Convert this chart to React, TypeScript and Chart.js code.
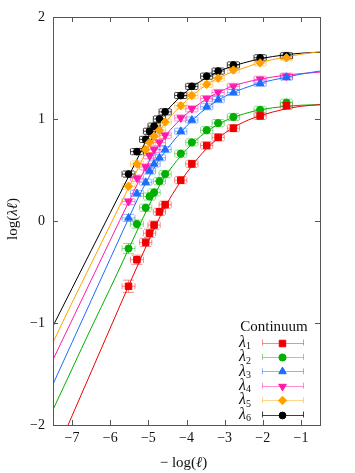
import React, { useEffect, useRef } from 'react';
import { Chart, registerables } from 'chart.js';
import { drawPoint } from 'chart.js/helpers';

Chart.register(...registerables);

// ---- data ----
const xValues = [-5.52, -5.30, -5.07, -4.97, -4.85, -4.71, -4.56, -4.15, -3.86, -3.47, -3.17, -2.77, -2.07, -1.38];
const xErr = [0.17, 0.17, 0.16, 0.16, 0.16, 0.16, 0.16, 0.16, 0.16, 0.16, 0.16, 0.16, 0.16, 0.16];

const lambda1 = [-0.64, -0.38, -0.21, -0.12, -0.04, 0.09, 0.16, 0.40, 0.56, 0.74, 0.82, 0.91, 1.03, 1.13];
const lambda2 = [-0.27, -0.03, 0.13, 0.24, 0.28, 0.39, 0.46, 0.66, 0.77, 0.89, 0.96, 1.02, 1.09, 1.16];
const lambda3 = [0.03, 0.27, 0.38, 0.49, 0.56, 0.62, 0.70, 0.88, 0.99, 1.12, 1.19, 1.26, 1.35, 1.41];
const lambda4 = [0.19, 0.42, 0.53, 0.64, 0.70, 0.77, 0.84, 1.01, 1.10, 1.20, 1.26, 1.32, 1.39, 1.42];
const lambda5 = [0.34, 0.56, 0.70, 0.77, 0.83, 0.89, 0.97, 1.13, 1.23, 1.34, 1.40, 1.48, 1.55, 1.60];
const lambda6 = [0.46, 0.68, 0.80, 0.88, 0.93, 1.00, 1.07, 1.23, 1.32, 1.42, 1.47, 1.53, 1.60, 1.62];

const yErr1 = [0.06, 0.045, 0.04, 0.04, 0.04, 0.035, 0.035, 0.035, 0.035, 0.035, 0.035, 0.035, 0.035, 0.035];
const yErr2 = [0.05, 0.04, 0.035, 0.035, 0.035, 0.035, 0.035, 0.035, 0.035, 0.035, 0.035, 0.035, 0.035, 0.035];
const yErr3 = [0.035, 0.03, 0.03, 0.03, 0.03, 0.03, 0.03, 0.03, 0.03, 0.03, 0.03, 0.03, 0.03, 0.03];
const yErr4 = [0.03, 0.03, 0.03, 0.03, 0.03, 0.03, 0.03, 0.03, 0.03, 0.03, 0.03, 0.03, 0.03, 0.03];
const yErr5 = [0.03, 0.03, 0.03, 0.03, 0.03, 0.03, 0.03, 0.03, 0.03, 0.03, 0.03, 0.03, 0.03, 0.03];
const yErr6 = [0.03, 0.03, 0.03, 0.03, 0.03, 0.03, 0.03, 0.03, 0.03, 0.03, 0.03, 0.03, 0.03, 0.03];

const curveX = [-7.5, -7, -6.5, -6, -5.5, -5.25, -5, -4.75, -4.5, -4, -3.5, -3, -2.5, -2, -1.5, -1, -0.5];
const curve1 = [-2.34, -1.91, -1.48, -1.05, -0.62, -0.41, -0.20, 0.0, 0.18, 0.47, 0.70, 0.86, 0.97, 1.04, 1.09, 1.125, 1.14];
const curve2 = [-1.85, -1.45, -1.05, -0.66, -0.26, -0.06, 0.14, 0.32, 0.47, 0.70, 0.87, 0.98, 1.05, 1.095, 1.12, 1.135, 1.14];
const curve3 = [-1.60, -1.19, -0.78, -0.37, 0.04, 0.24, 0.42, 0.58, 0.71, 0.93, 1.10, 1.22, 1.30, 1.36, 1.40, 1.44, 1.47];
const curve4 = [-1.36, -0.97, -0.58, -0.19, 0.20, 0.39, 0.57, 0.73, 0.86, 1.05, 1.19, 1.29, 1.355, 1.395, 1.425, 1.445, 1.46];
const curve5 = [-1.19, -0.80, -0.42, -0.04, 0.34, 0.53, 0.72, 0.86, 0.99, 1.18, 1.33, 1.43, 1.50, 1.56, 1.60, 1.635, 1.66];
const curve6 = [-1.03, -0.66, -0.29, 0.08, 0.45, 0.64, 0.83, 0.98, 1.09, 1.27, 1.40, 1.49, 1.55, 1.595, 1.625, 1.645, 1.655];

const xTicks = [-7, -6, -5, -4, -3, -2, -1];
const yTicks = [-2, -1, 0, 1, 2];
const seriesIndex = ['1', '2', '3', '4', '5', '6'];
const legendTitle = 'Continuum';

// ---- styles ----
const colors = ['#ee0000', '#00b000', '#1a6dff', '#ff1aaa', '#ffa000', '#000000'];
const barColors = ['rgba(238,0,0,0.45)', 'rgba(0,176,0,0.45)', 'rgba(26,109,255,0.5)', 'rgba(255,26,170,0.5)', 'rgba(255,160,0,0.45)', 'rgba(0,0,0,0.75)'];
const styles: any[] = [
  { pointStyle: 'rect', radius: 4.6, rotation: 0 },
  { pointStyle: 'circle', radius: 3.6, rotation: 0 },
  { pointStyle: 'triangle', radius: 4.4, rotation: 0 },
  { pointStyle: 'triangle', radius: 4.4, rotation: 180 },
  { pointStyle: 'rectRot', radius: 4.2, rotation: 0 },
  { pointStyle: 'circle', radius: 3.4, rotation: 0 },
];
const seriesValues = [lambda1, lambda2, lambda3, lambda4, lambda5, lambda6];
const seriesYErr = [yErr1, yErr2, yErr3, yErr4, yErr5, yErr6];
const curves = [curve1, curve2, curve3, curve4, curve5, curve6];

const FONT = '"Liberation Serif", "DejaVu Serif", serif';
const minus = (v: any) => String(v).replace('-', '−');

const errorBarsPlugin = {
  id: 'errorBars',
  beforeDatasetsDraw(chart: any) {
    const { ctx, chartArea, scales } = chart;
    const xs = scales.x, ys = scales.y;
    ctx.save();
    ctx.beginPath();
    ctx.rect(chartArea.left, chartArea.top, chartArea.right - chartArea.left, chartArea.bottom - chartArea.top);
    ctx.clip();
    ctx.lineWidth = 1;
    seriesValues.forEach((vals, s) => {
      ctx.strokeStyle = barColors[s];
      vals.forEach((v, i) => {
        const x = xValues[i];
        const px = xs.getPixelForValue(x);
        const py = ys.getPixelForValue(v);
        const x0 = xs.getPixelForValue(x - xErr[i]);
        const x1 = xs.getPixelForValue(x + xErr[i]);
        const y0 = ys.getPixelForValue(v - seriesYErr[s][i]);
        const y1 = ys.getPixelForValue(v + seriesYErr[s][i]);
        const cap = 3;
        const hcap = 5.5;
        ctx.beginPath();
        ctx.moveTo(x0, py); ctx.lineTo(x1, py);
        ctx.moveTo(x0, py - cap); ctx.lineTo(x0, py + cap);
        ctx.moveTo(x1, py - cap); ctx.lineTo(x1, py + cap);
        ctx.moveTo(px, y0); ctx.lineTo(px, y1);
        ctx.moveTo(px - hcap, y0); ctx.lineTo(px + hcap, y0);
        ctx.moveTo(px - hcap, y1); ctx.lineTo(px + hcap, y1);
        ctx.stroke();
      });
    });
    ctx.restore();
  },
};

function drawSegments(ctx: CanvasRenderingContext2D, segs: { t: string; f: string; dy?: number }[], x: number, y: number, align: 'left' | 'center') {
  let total = 0;
  segs.forEach((s) => { ctx.font = s.f; total += ctx.measureText(s.t).width; });
  let cx = align === 'center' ? x - total / 2 : x;
  ctx.textAlign = 'left';
  segs.forEach((s) => {
    ctx.font = s.f;
    ctx.fillText(s.t, cx, y + (s.dy || 0));
    cx += ctx.measureText(s.t).width;
  });
}

const decorPlugin = {
  id: 'decor',
  afterDraw(chart: any) {
    const { ctx, chartArea, scales } = chart;
    const { left, right, top, bottom } = chartArea;
    ctx.save();
    ctx.strokeStyle = '#555';
    ctx.lineWidth = 1;
    ctx.strokeRect(Math.round(left) + 0.5, Math.round(top) + 0.5, Math.round(right - left), Math.round(bottom - top));
    ctx.beginPath();
    const tl = 5;
    xTicks.forEach((t) => {
      const px = Math.round(scales.x.getPixelForValue(t)) + 0.5;
      ctx.moveTo(px, bottom); ctx.lineTo(px, bottom - tl);
      ctx.moveTo(px, top); ctx.lineTo(px, top + tl);
    });
    yTicks.forEach((t) => {
      const py = Math.round(scales.y.getPixelForValue(t)) + 0.5;
      ctx.moveTo(left, py); ctx.lineTo(left + tl, py);
      ctx.moveTo(right, py); ctx.lineTo(right - tl, py);
    });
    ctx.stroke();

    ctx.fillStyle = '#111';
    ctx.textBaseline = 'middle';
    drawSegments(ctx, [
      { t: '− log(', f: `15px ${FONT}` },
      { t: 'ℓ', f: `italic 15px ${FONT}` },
      { t: ')', f: `15px ${FONT}` },
    ], (left + right) / 2 - 3, 463, 'center');
    ctx.save();
    ctx.translate(13, 219);
    ctx.rotate(-Math.PI / 2);
    drawSegments(ctx, [
      { t: 'log(', f: `15px ${FONT}` },
      { t: 'λℓ', f: `italic 15px ${FONT}` },
      { t: ')', f: `15px ${FONT}` },
    ], 0, 0, 'center');
    ctx.restore();

    ctx.font = `15px ${FONT}`;
    ctx.textAlign = 'center';
    ctx.fillText(legendTitle, 274, 327);
    const rowY0 = 342.5;
    const rowH = 14.4;
    seriesIndex.forEach((sub, s) => {
      const y = rowY0 + s * rowH;
      ctx.fillStyle = '#111';
      drawSegments(ctx, [
        { t: 'λ', f: `italic 16px ${FONT}` },
        { t: sub, f: `10px ${FONT}`, dy: 4 },
      ], 239, y, 'left');
      const lx0 = 262.5, lx1 = 303.5;
      ctx.strokeStyle = barColors[s];
      ctx.lineWidth = 1;
      ctx.beginPath();
      ctx.moveTo(lx0, Math.round(y) + 0.5); ctx.lineTo(lx1, Math.round(y) + 0.5);
      ctx.moveTo(lx0, y - 3); ctx.lineTo(lx0, y + 3);
      ctx.moveTo(lx1, y - 3); ctx.lineTo(lx1, y + 3);
      ctx.stroke();
      ctx.fillStyle = colors[s];
      ctx.strokeStyle = colors[s];
      drawPoint(ctx, { pointStyle: styles[s].pointStyle, rotation: styles[s].rotation, radius: styles[s].radius, borderWidth: 1 }, 282.5, Math.round(y) + 0.5);
    });
    ctx.restore();
  },
};

export default function App() {
  const ref = useRef<HTMLCanvasElement>(null);
  useEffect(() => {
    if (!ref.current) return;
    const datasets: any[] = [];
    seriesValues.forEach((vals, s) => {
      datasets.push({
        label: 'λ' + seriesIndex[s],
        data: xValues.map((x, i) => ({ x, y: vals[i] })),
        showLine: false,
        pointStyle: styles[s].pointStyle,
        rotation: styles[s].rotation,
        pointRadius: styles[s].radius,
        pointBackgroundColor: colors[s],
        pointBorderColor: colors[s],
        pointBorderWidth: 1,
        order: 0,
      });
    });
    curves.forEach((c, s) => {
      datasets.push({
        label: 'curve' + seriesIndex[s],
        data: curveX.map((x, i) => ({ x, y: c[i] })),
        showLine: true,
        borderColor: colors[s],
        borderWidth: 1,
        pointRadius: 0,
        cubicInterpolationMode: 'monotone',
        order: 1,
      });
    });
    const chart = new Chart(ref.current, {
      type: 'scatter',
      data: { datasets },
      options: {
        animation: false,
        responsive: false,
        devicePixelRatio: 1,
        layout: { padding: { left: 0, top: 17, right: 35, bottom: 0 } },
        plugins: { legend: { display: false }, tooltip: { enabled: false } },
        scales: {
          x: {
            type: 'linear',
            min: -7.5,
            max: -0.5,
            afterBuildTicks: (sc: any) => { sc.ticks = xTicks.map((v) => ({ value: v })); },
            afterFit: (sc: any) => { sc.height = 48; },
            grid: { display: false, drawTicks: false },
            border: { display: false },
            ticks: { padding: 5, color: '#111', font: { family: FONT, size: 14 }, callback: minus, maxRotation: 0 },
          },
          y: {
            type: 'linear',
            min: -2,
            max: 2,
            afterBuildTicks: (sc: any) => { sc.ticks = yTicks.map((v) => ({ value: v })); },
            afterFit: (sc: any) => { sc.width = 53; },
            grid: { display: false, drawTicks: false },
            border: { display: false },
            ticks: { padding: 8, color: '#111', font: { family: FONT, size: 14 }, callback: minus },
          },
        },
      },
      plugins: [errorBarsPlugin, decorPlugin],
    });
    return () => chart.destroy();
  }, []);
  return (
    <div style={{ position: 'absolute', left: 0, top: 0, width: 355, height: 473, background: '#fff' }}>
      <canvas ref={ref} width={355} height={473} style={{ display: 'block' }} />
    </div>
  );
}
